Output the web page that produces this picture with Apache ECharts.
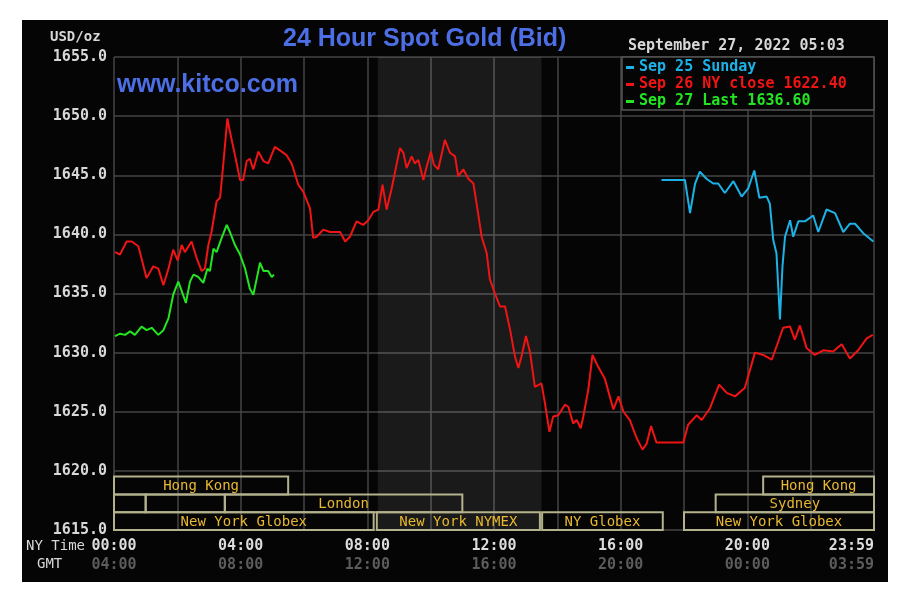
<!DOCTYPE html>
<html>
<head>
<meta charset="utf-8">
<script src="https://cdn.jsdelivr.net/npm/echarts@6/dist/echarts.min.js"></script>
<style>
  body { margin: 0; background: #fff; }
  #frame { position: absolute; left: 22px; top: 20px; width: 866px; height: 562px; background: #050505; }
  #chart { position: absolute; left: 0; top: 0; width: 910px; height: 606px; }
</style>
</head>
<body>
<div id="frame"></div>
<div id="chart"></div>
<script>
  // hours after 00:00 NY time, price in USD/oz
  var sep25Hours = [17.29, 18.03, 18.19, 18.35, 18.50, 18.71, 18.92, 19.08, 19.29, 19.56, 19.82, 20.03, 20.22, 20.38, 20.61, 20.71, 20.82, 20.92, 21.03, 21.11, 21.19, 21.35, 21.45, 21.61, 21.82, 22.08, 22.24, 22.50, 22.77, 23.03, 23.24, 23.40, 23.66, 23.98];
  var sep25Prices = [1644.6, 1644.6, 1641.8, 1644.3, 1645.3, 1644.7, 1644.3, 1644.3, 1643.5, 1644.5, 1643.2, 1643.9, 1645.4, 1643.1, 1643.2, 1642.6, 1639.5, 1638.4, 1632.8, 1637.3, 1639.8, 1641.2, 1639.8, 1641.1, 1641.1, 1641.6, 1640.2, 1642.1, 1641.8, 1640.2, 1640.9, 1640.9, 1640.1, 1639.4];

  var sep26Hours = [0.03, 0.19, 0.40, 0.56, 0.77, 1.03, 1.24, 1.40, 1.56, 1.72, 1.87, 2.01, 2.14, 2.24, 2.45, 2.61, 2.77, 2.87, 2.98, 3.08, 3.24, 3.35, 3.45, 3.58, 3.66, 3.82, 3.98, 4.08, 4.19, 4.29, 4.40, 4.56, 4.72, 4.87, 5.08, 5.24, 5.45, 5.61, 5.82, 5.98, 6.19, 6.29, 6.40, 6.61, 6.82, 7.14, 7.30, 7.45, 7.66, 7.87, 8.03, 8.19, 8.35, 8.48, 8.61, 8.77, 8.93, 9.03, 9.14, 9.24, 9.40, 9.50, 9.61, 9.77, 9.87, 10.01, 10.10, 10.24, 10.45, 10.61, 10.77, 10.87, 11.03, 11.19, 11.35, 11.45, 11.61, 11.77, 11.87, 12.03, 12.19, 12.35, 12.51, 12.66, 12.77, 12.87, 13.01, 13.14, 13.29, 13.50, 13.61, 13.75, 13.87, 14.03, 14.24, 14.35, 14.50, 14.61, 14.74, 14.82, 14.98, 15.11, 15.29, 15.50, 15.77, 15.93, 16.09, 16.29, 16.50, 16.69, 16.82, 16.96, 17.13, 17.98, 18.13, 18.40, 18.56, 18.82, 19.11, 19.35, 19.61, 19.92, 20.24, 20.50, 20.77, 20.92, 21.13, 21.35, 21.50, 21.66, 21.87, 22.13, 22.40, 22.71, 22.98, 23.24, 23.50, 23.77, 23.96];
  var sep26Prices = [1638.5, 1638.3, 1639.4, 1639.4, 1639.0, 1636.3, 1637.3, 1637.1, 1635.7, 1637.1, 1638.7, 1637.8, 1639.1, 1638.5, 1639.4, 1638.0, 1636.9, 1637.1, 1639.1, 1640.2, 1642.8, 1643.1, 1645.9, 1649.8, 1648.7, 1646.7, 1644.6, 1644.6, 1646.2, 1646.4, 1645.5, 1647.0, 1646.2, 1646.0, 1647.4, 1647.1, 1646.7, 1646.0, 1644.2, 1643.6, 1642.2, 1639.7, 1639.8, 1640.4, 1640.2, 1640.2, 1639.4, 1639.8, 1641.1, 1640.8, 1641.2, 1641.9, 1642.1, 1644.2, 1642.1, 1643.9, 1646.0, 1647.3, 1646.9, 1645.6, 1646.6, 1646.0, 1646.3, 1644.6, 1645.7, 1647.0, 1645.9, 1645.5, 1648.0, 1646.9, 1646.6, 1644.9, 1645.5, 1644.7, 1644.3, 1642.6, 1639.8, 1638.4, 1636.2, 1635.0, 1633.9, 1633.9, 1631.9, 1629.7, 1628.7, 1629.7, 1631.4, 1630.0, 1627.1, 1627.4, 1625.7, 1623.3, 1624.6, 1624.7, 1625.6, 1625.4, 1624.0, 1624.3, 1623.6, 1624.6, 1626.9, 1629.8, 1628.8, 1627.8, 1625.2, 1626.3, 1625.0, 1624.3, 1622.8, 1621.8, 1622.3, 1623.8, 1622.4, 1622.4, 1623.9, 1624.7, 1624.3, 1625.3, 1627.3, 1626.6, 1626.3, 1627.0, 1630.0, 1629.8, 1629.4, 1630.5, 1632.1, 1632.2, 1631.1, 1632.3, 1630.4, 1629.8, 1630.2, 1630.1, 1630.7, 1629.5, 1630.2, 1631.2, 1631.5];

  var sep27Hours = [0.03, 0.19, 0.35, 0.51, 0.66, 0.87, 1.03, 1.19, 1.40, 1.56, 1.72, 1.87, 2.03, 2.14, 2.27, 2.40, 2.51, 2.66, 2.82, 2.95, 3.03, 3.14, 3.24, 3.40, 3.56, 3.66, 3.82, 3.98, 4.14, 4.29, 4.40, 4.51, 4.61, 4.72, 4.87, 4.98, 5.05];
  var sep27Prices = [1631.4, 1631.6, 1631.5, 1631.8, 1631.5, 1632.2, 1631.9, 1632.1, 1631.5, 1631.9, 1632.9, 1634.9, 1636.0, 1635.2, 1634.2, 1636.0, 1636.6, 1636.4, 1635.9, 1637.1, 1636.9, 1638.8, 1638.5, 1639.7, 1640.8, 1640.2, 1639.1, 1638.3, 1637.1, 1635.4, 1634.9, 1636.3, 1637.6, 1636.9, 1636.9, 1636.4, 1636.6];

  var seriesNames = ['Sep 25 Sunday', 'Sep 26 NY close 1622.40', 'Sep 27 Last 1636.60'];
  var seriesColors = ['#1cb2e6', '#f01414', '#22e622'];

  // NYMEX pit hours (shaded)
  var nymexHours = [8.33, 13.5];

  // trading session boxes, row 0 is the bottom row
  var sessionStart = [0, 20.5, 0, 1, 3.5, 19, 0, 8.3, 13.52, 18];
  var sessionEnd = [5.5, 24, 1, 3.5, 11, 24, 8.2, 13.45, 17.33, 24];
  var sessionRow = [2, 2, 1, 1, 1, 1, 0, 0, 0, 0];
  var sessionName = ['Hong Kong', 'Hong Kong', '', '', 'London', 'Sydney', 'New York Globex', 'New York NYMEX', 'NY Globex', 'New York Globex'];

  var mono = '"DejaVu Sans Mono", monospace';

  function pairs(xs, ys) {
    return xs.map(function (x, i) { return [x, ys[i]]; });
  }
  function hhmm(h) {
    if (h >= 24) return '23:59';
    return (h < 10 ? '0' + h : '' + h) + ':00';
  }

  var chart = echarts.init(document.getElementById('chart'));

  var sessionData = sessionStart.map(function (s, i) { return [s, sessionEnd[i], sessionRow[i]]; });

  var lineSeries = [sep25Hours, sep26Hours, sep27Hours].map(function (hours, i) {
    var prices = [sep25Prices, sep26Prices, sep27Prices][i];
    return {
      name: seriesNames[i],
      type: 'line',
      data: pairs(hours, prices),
      showSymbol: false,
      silent: true,
      z: 4,
      lineStyle: { color: seriesColors[i], width: 2 },
      itemStyle: { color: seriesColors[i] }
    };
  });

  lineSeries[1].markArea = {
    silent: true,
    itemStyle: { color: 'rgba(255,255,255,0.085)' },
    data: [[{ xAxis: nymexHours[0] }, { xAxis: nymexHours[1] }]]
  };

  var option = {
    backgroundColor: 'transparent',
    animation: false,
    grid: { left: 114, top: 57, width: 760, height: 473 },
    xAxis: {
      type: 'value',
      min: 0,
      max: 24,
      interval: 2,
      axisLine: { show: false },
      axisTick: { show: false },
      splitLine: { lineStyle: { color: '#444', width: 1.5 } },
      axisLabel: {
        margin: 7,
        alignMaxLabel: 'right',
        formatter: function (v) {
          if (v % 4 !== 0) return '';
          var gmt = v >= 24 ? '03:59' : hhmm((v + 4) % 24);
          return '{a|' + hhmm(v) + '}\n{b|' + gmt + '}';
        },
        rich: {
          a: { fontFamily: mono, fontWeight: 'bold', fontSize: 15, color: '#dcdcdc', lineHeight: 19 },
          b: { fontFamily: mono, fontWeight: 'bold', fontSize: 15, color: '#5c5c5c', lineHeight: 19 }
        }
      }
    },
    yAxis: {
      type: 'value',
      min: 1615,
      max: 1655,
      interval: 5,
      axisLine: { show: false },
      axisTick: { show: false },
      splitLine: { lineStyle: { color: '#444', width: 1.5 } },
      axisLabel: {
        margin: 7,
        color: '#d8d8d8',
        fontFamily: mono,
        fontWeight: 'bold',
        fontSize: 15,
        formatter: function (v) { return v.toFixed(1); }
      }
    },
    legend: {
      orient: 'vertical',
      left: 626,
      top: 60,
      padding: 0,
      itemGap: 2,
      itemWidth: 8,
      itemHeight: 3,
      icon: 'rect',
      selectedMode: false,
      z: 10,
      data: seriesNames.map(function (n, i) {
        return { name: n, textStyle: { color: seriesColors[i], fontFamily: mono, fontWeight: 'bold', fontSize: 15, lineHeight: 15 } };
      })
    },
    graphic: [
      { type: 'text', left: 283, top: 27, z: 10,
        style: { text: '24 Hour Spot Gold (Bid)', fill: '#4d6fe6', font: 'bold 25px "Liberation Sans", Arial, sans-serif' } },
      { type: 'text', left: 117, top: 73, z: 10,
        style: { text: 'www.kitco.com', fill: '#4d6fe6', font: 'bold 25px "Liberation Sans", Arial, sans-serif' } },
      { type: 'text', left: 50, top: 30, z: 10,
        style: { text: 'USD/oz', fill: '#d8d8d8', font: 'bold 14px ' + mono } },
      { type: 'text', left: 628, top: 39, z: 10,
        style: { text: 'September 27, 2022 05:03', fill: '#d8d8d8', font: 'bold 15px ' + mono } },
      { type: 'text', left: 26, top: 539, z: 10,
        style: { text: 'NY Time', fill: '#d8d8d8', font: '14px ' + mono } },
      { type: 'text', left: 37, top: 557, z: 10,
        style: { text: 'GMT', fill: '#d8d8d8', font: '14px ' + mono } },
      { type: 'rect', z: 5, shape: { x: 622, y: 57, width: 252, height: 53 },
        style: { fill: '#050505', stroke: '#555', lineWidth: 1.5 } }
    ],
    series: lineSeries.concat([{
      type: 'custom',
      silent: true,
      z: 3,
      data: sessionData,
      renderItem: function (params, api) {
        var x0 = api.coord([api.value(0), 1615])[0];
        var x1 = api.coord([api.value(1), 1615])[0];
        var bottom = params.coordSys.y + params.coordSys.height;
        var h = 17.8;
        var y1 = bottom - api.value(2) * h;
        var y0 = y1 - h;
        return {
          type: 'group',
          children: [
            { type: 'rect', shape: { x: x0, y: y0, width: x1 - x0, height: h },
              style: { fill: null, stroke: '#b4b28c', lineWidth: 2 } },
            { type: 'text', style: { text: sessionName[params.dataIndex], x: (x0 + x1) / 2, y: (y0 + y1) / 2 + 1,
              align: 'center', verticalAlign: 'middle', fill: '#e8b830', font: '14px ' + mono } }
          ]
        };
      }
    }])
  };

  chart.setOption(option);
</script>
</body>
</html>
